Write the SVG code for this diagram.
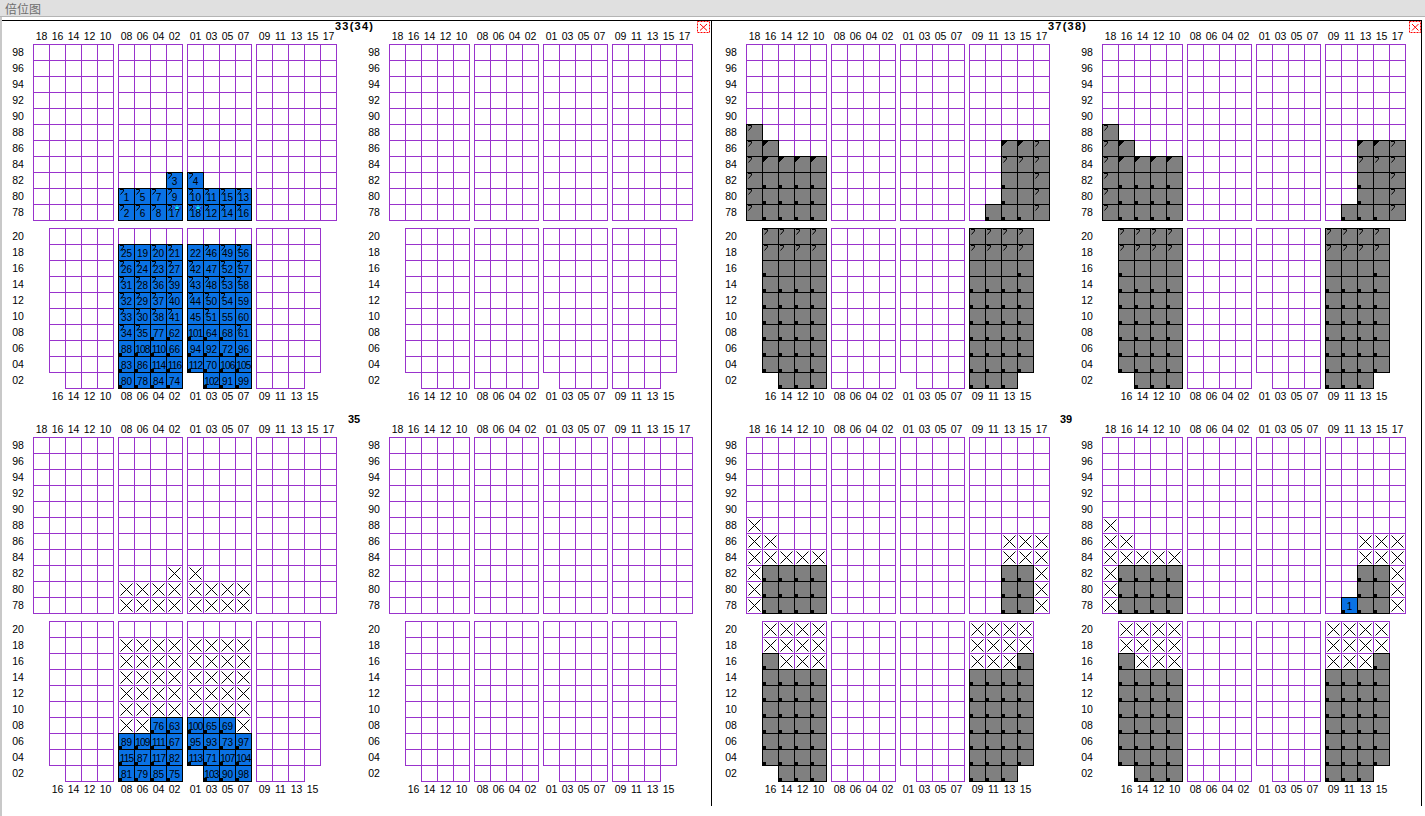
<svg xmlns="http://www.w3.org/2000/svg" width="1425" height="816" viewBox="0 0 1425 816">
<style>
.gr{fill:none;stroke:#9933cc;stroke-width:1;shape-rendering:crispEdges}
.g{fill:#808080;stroke:#000;stroke-width:1;shape-rendering:crispEdges}
.b{fill:#0a72e4;stroke:#000;stroke-width:1;shape-rendering:crispEdges}
.mk{fill:#000;shape-rendering:crispEdges}
.hk{fill:none;stroke:#000;stroke-width:1}
.xl{fill:none;stroke:#000;stroke-width:1}
.lb{font-family:"Liberation Sans",Arial,sans-serif;font-size:10.5px;text-anchor:middle;fill:#000}
.n{font-family:"Liberation Sans",Arial,sans-serif;font-size:10px;text-anchor:middle;fill:#000}
.w3{letter-spacing:-0.8px}
.t{font-family:"Liberation Sans",Arial,sans-serif;font-size:11px;font-weight:bold;fill:#000}
.bd{fill:none;stroke:#000;stroke-width:1;shape-rendering:crispEdges}
</style>
<defs>
<g id="grid" class="gr">
<path transform="translate(0,44)" d="M0.5 0V177M16.5 0V177M32.5 0V177M48.5 0V177M64.5 0V177M80.5 0V177M0 0.5H81M0 16.5H81M0 32.5H81M0 48.5H81M0 64.5H81M0 80.5H81M0 96.5H81M0 112.5H81M0 128.5H81M0 144.5H81M0 160.5H81M0 176.5H81"/>
<path transform="translate(85,44)" d="M0.5 0V177M16.5 0V177M32.5 0V177M48.5 0V177M64.5 0V177M0 0.5H65M0 16.5H65M0 32.5H65M0 48.5H65M0 64.5H65M0 80.5H65M0 96.5H65M0 112.5H65M0 128.5H65M0 144.5H65M0 160.5H65M0 176.5H65"/>
<path transform="translate(154,44)" d="M0.5 0V177M16.5 0V177M32.5 0V177M48.5 0V177M64.5 0V177M0 0.5H65M0 16.5H65M0 32.5H65M0 48.5H65M0 64.5H65M0 80.5H65M0 96.5H65M0 112.5H65M0 128.5H65M0 144.5H65M0 160.5H65M0 176.5H65"/>
<path transform="translate(223,44)" d="M0.5 0V177M16.5 0V177M32.5 0V177M48.5 0V177M64.5 0V177M80.5 0V177M0 0.5H81M0 16.5H81M0 32.5H81M0 48.5H81M0 64.5H81M0 80.5H81M0 96.5H81M0 112.5H81M0 128.5H81M0 144.5H81M0 160.5H81M0 176.5H81"/>
<path transform="translate(16,228)" d="M0.5 0V145M16.5 0V161M32.5 0V161M48.5 0V161M64.5 0V161M0 0.5H65M0 16.5H65M0 32.5H65M0 48.5H65M0 64.5H65M0 80.5H65M0 96.5H65M0 112.5H65M0 128.5H65M0 144.5H65M16 160.5H65"/>
<path transform="translate(85,228)" d="M0.5 0V161M16.5 0V161M32.5 0V161M48.5 0V161M64.5 0V161M0 0.5H65M0 16.5H65M0 32.5H65M0 48.5H65M0 64.5H65M0 80.5H65M0 96.5H65M0 112.5H65M0 128.5H65M0 144.5H65M0 160.5H65"/>
<path transform="translate(154,228)" d="M0.5 0V145M16.5 0V161M32.5 0V161M48.5 0V161M64.5 0V161M0 0.5H65M0 16.5H65M0 32.5H65M0 48.5H65M0 64.5H65M0 80.5H65M0 96.5H65M0 112.5H65M0 128.5H65M0 144.5H65M16 160.5H65"/>
<path transform="translate(223,228)" d="M0.5 0V161M16.5 0V161M32.5 0V161M48.5 0V161M64.5 0V145M0 0.5H65M0 16.5H65M0 32.5H65M0 48.5H65M0 64.5H65M0 80.5H65M0 96.5H65M0 112.5H65M0 128.5H65M0 144.5H65M0 160.5H49"/>
</g>
<path id="hkp" class="hk" d="M2 1.5h3.5M5.5 1.5v1.5L2.5 6.5"/>
<rect id="sqp" class="mk" x="1" y="13" width="3" height="3"/>
<path id="trp" class="mk" d="M1 1h5L1 6z"/>
<g id="G0"><rect class="g" x="0.5" y="0.5" width="16" height="16"/></g>
<g id="GS"><rect class="g" x="0.5" y="0.5" width="16" height="16"/><use href="#sqp"/></g>
<g id="GH"><rect class="g" x="0.5" y="0.5" width="16" height="16"/><use href="#hkp"/></g>
<g id="GT"><rect class="g" x="0.5" y="0.5" width="16" height="16"/><use href="#trp"/></g>
<g id="B0"><rect class="b" x="0.5" y="0.5" width="16" height="16"/></g>
<g id="BS"><rect class="b" x="0.5" y="0.5" width="16" height="16"/><use href="#sqp"/></g>
<g id="BH"><rect class="b" x="0.5" y="0.5" width="16" height="16"/><use href="#hkp"/></g>
<path id="X" class="xl" d="M2.5 2.5l12 12M14.5 2.5l-12 12"/>
<g id="AST"><ellipse cx="11" cy="4" rx="4" ry="3" fill="#2a3fc4"/><path d="M11 1v6M8.5 2.5l5 3M13.5 2.5l-5 3" stroke="#00ffff" stroke-width="1" fill="none"/></g>
<g id="ov37">
<use href="#GH" x="0" y="124"/><use href="#GH" x="0" y="140"/><use href="#GT" x="16" y="140"/>
<use href="#GH" x="0" y="156"/><use href="#GT" x="16" y="156"/><use href="#GT" x="32" y="156"/><use href="#GT" x="48" y="156"/><use href="#GT" x="64" y="156"/>
<use href="#GH" x="0" y="172"/><use href="#GS" x="16" y="172"/><use href="#GS" x="32" y="172"/><use href="#GS" x="48" y="172"/><use href="#GS" x="64" y="172"/>
<use href="#GH" x="0" y="188"/><use href="#GS" x="16" y="188"/><use href="#GS" x="32" y="188"/><use href="#GS" x="48" y="188"/><use href="#GS" x="64" y="188"/>
<use href="#GH" x="0" y="204"/><use href="#GS" x="16" y="204"/><use href="#GS" x="32" y="204"/><use href="#GS" x="48" y="204"/><use href="#GS" x="64" y="204"/>
<use href="#GT" x="255" y="140"/><use href="#GT" x="271" y="140"/><use href="#GH" x="287" y="140"/>
<use href="#GH" x="255" y="156"/><use href="#GH" x="271" y="156"/><use href="#GH" x="287" y="156"/>
<use href="#GS" x="255" y="172"/><use href="#G0" x="271" y="172"/><use href="#GH" x="287" y="172"/>
<use href="#GS" x="255" y="188"/><use href="#G0" x="271" y="188"/><use href="#GH" x="287" y="188"/>
<use href="#GS" x="239" y="204"/><use href="#GS" x="255" y="204"/><use href="#GS" x="271" y="204"/><use href="#GH" x="287" y="204"/>
<use href="#GH" x="16" y="228"/><use href="#GH" x="32" y="228"/><use href="#GH" x="48" y="228"/><use href="#GH" x="64" y="228"/>
<use href="#GH" x="16" y="244"/><use href="#GH" x="32" y="244"/><use href="#GH" x="48" y="244"/><use href="#GH" x="64" y="244"/>
<use href="#GS" x="16" y="260"/><use href="#G0" x="32" y="260"/><use href="#G0" x="48" y="260"/><use href="#G0" x="64" y="260"/>
<use href="#GS" x="16" y="276"/><use href="#GS" x="32" y="276"/><use href="#GS" x="48" y="276"/><use href="#GS" x="64" y="276"/>
<use href="#GS" x="16" y="292"/><use href="#GS" x="32" y="292"/><use href="#GS" x="48" y="292"/><use href="#GS" x="64" y="292"/>
<use href="#GS" x="16" y="308"/><use href="#GS" x="32" y="308"/><use href="#GS" x="48" y="308"/><use href="#GS" x="64" y="308"/>
<use href="#GS" x="16" y="324"/><use href="#GS" x="32" y="324"/><use href="#GS" x="48" y="324"/><use href="#GS" x="64" y="324"/>
<use href="#GS" x="16" y="340"/><use href="#GS" x="32" y="340"/><use href="#GS" x="48" y="340"/><use href="#GS" x="64" y="340"/>
<use href="#GS" x="16" y="356"/><use href="#GS" x="32" y="356"/><use href="#GS" x="48" y="356"/><use href="#GS" x="64" y="356"/>
<use href="#GS" x="32" y="372"/><use href="#GS" x="48" y="372"/><use href="#GS" x="64" y="372"/>
<use href="#GH" x="223" y="228"/><use href="#GH" x="239" y="228"/><use href="#GH" x="255" y="228"/><use href="#GH" x="271" y="228"/>
<use href="#GH" x="223" y="244"/><use href="#GH" x="239" y="244"/><use href="#GH" x="255" y="244"/><use href="#GH" x="271" y="244"/>
<use href="#G0" x="223" y="260"/><use href="#G0" x="239" y="260"/><use href="#G0" x="255" y="260"/><use href="#GS" x="271" y="260"/>
<use href="#GS" x="223" y="276"/><use href="#GS" x="239" y="276"/><use href="#GS" x="255" y="276"/><use href="#GS" x="271" y="276"/>
<use href="#GS" x="223" y="292"/><use href="#GS" x="239" y="292"/><use href="#GS" x="255" y="292"/><use href="#GS" x="271" y="292"/>
<use href="#GS" x="223" y="308"/><use href="#GS" x="239" y="308"/><use href="#GS" x="255" y="308"/><use href="#GS" x="271" y="308"/>
<use href="#GS" x="223" y="324"/><use href="#GS" x="239" y="324"/><use href="#GS" x="255" y="324"/><use href="#GS" x="271" y="324"/>
<use href="#GS" x="223" y="340"/><use href="#GS" x="239" y="340"/><use href="#GS" x="255" y="340"/><use href="#GS" x="271" y="340"/>
<use href="#GS" x="223" y="356"/><use href="#GS" x="239" y="356"/><use href="#GS" x="255" y="356"/><use href="#GS" x="271" y="356"/>
<use href="#GS" x="223" y="372"/><use href="#GS" x="239" y="372"/><use href="#GS" x="255" y="372"/>
</g>
<g id="ov39">
<use href="#X" x="0" y="124"/><use href="#X" x="0" y="140"/><use href="#X" x="16" y="140"/>
<use href="#X" x="0" y="156"/><use href="#X" x="16" y="156"/><use href="#X" x="32" y="156"/><use href="#X" x="48" y="156"/><use href="#X" x="64" y="156"/>
<use href="#X" x="0" y="172"/><use href="#X" x="0" y="188"/><use href="#X" x="0" y="204"/>
<use href="#GS" x="16" y="172"/><use href="#GS" x="32" y="172"/><use href="#GS" x="48" y="172"/><use href="#GS" x="64" y="172"/>
<use href="#GS" x="16" y="188"/><use href="#GS" x="32" y="188"/><use href="#GS" x="48" y="188"/><use href="#GS" x="64" y="188"/>
<use href="#GS" x="16" y="204"/><use href="#GS" x="32" y="204"/><use href="#GS" x="48" y="204"/><use href="#GS" x="64" y="204"/>
<use href="#X" x="255" y="140"/><use href="#X" x="271" y="140"/><use href="#X" x="287" y="140"/>
<use href="#X" x="255" y="156"/><use href="#X" x="271" y="156"/><use href="#X" x="287" y="156"/>
<use href="#X" x="287" y="172"/><use href="#X" x="287" y="188"/><use href="#X" x="287" y="204"/>
<use href="#GS" x="255" y="172"/><use href="#GS" x="271" y="172"/><use href="#GS" x="255" y="188"/><use href="#GS" x="271" y="188"/><use href="#GS" x="255" y="204"/><use href="#GS" x="271" y="204"/>
<use href="#X" x="16" y="228"/><use href="#X" x="32" y="228"/><use href="#X" x="48" y="228"/><use href="#X" x="64" y="228"/>
<use href="#X" x="16" y="244"/><use href="#X" x="32" y="244"/><use href="#X" x="48" y="244"/><use href="#X" x="64" y="244"/>
<use href="#GS" x="16" y="260"/><use href="#X" x="32" y="260"/><use href="#X" x="48" y="260"/><use href="#X" x="64" y="260"/>
<use href="#GS" x="16" y="276"/><use href="#GS" x="32" y="276"/><use href="#GS" x="48" y="276"/><use href="#GS" x="64" y="276"/>
<use href="#GS" x="16" y="292"/><use href="#GS" x="32" y="292"/><use href="#GS" x="48" y="292"/><use href="#GS" x="64" y="292"/>
<use href="#GS" x="16" y="308"/><use href="#GS" x="32" y="308"/><use href="#GS" x="48" y="308"/><use href="#GS" x="64" y="308"/>
<use href="#GS" x="16" y="324"/><use href="#GS" x="32" y="324"/><use href="#GS" x="48" y="324"/><use href="#GS" x="64" y="324"/>
<use href="#GS" x="16" y="340"/><use href="#GS" x="32" y="340"/><use href="#GS" x="48" y="340"/><use href="#GS" x="64" y="340"/>
<use href="#GS" x="16" y="356"/><use href="#GS" x="32" y="356"/><use href="#GS" x="48" y="356"/><use href="#GS" x="64" y="356"/>
<use href="#GS" x="32" y="372"/><use href="#GS" x="48" y="372"/><use href="#GS" x="64" y="372"/>
<use href="#X" x="223" y="228"/><use href="#X" x="239" y="228"/><use href="#X" x="255" y="228"/><use href="#X" x="271" y="228"/>
<use href="#X" x="223" y="244"/><use href="#X" x="239" y="244"/><use href="#X" x="255" y="244"/><use href="#X" x="271" y="244"/>
<use href="#X" x="223" y="260"/><use href="#X" x="239" y="260"/><use href="#X" x="255" y="260"/><use href="#GS" x="271" y="260"/>
<use href="#GS" x="223" y="276"/><use href="#GS" x="239" y="276"/><use href="#GS" x="255" y="276"/><use href="#GS" x="271" y="276"/>
<use href="#GS" x="223" y="292"/><use href="#GS" x="239" y="292"/><use href="#GS" x="255" y="292"/><use href="#GS" x="271" y="292"/>
<use href="#GS" x="223" y="308"/><use href="#GS" x="239" y="308"/><use href="#GS" x="255" y="308"/><use href="#GS" x="271" y="308"/>
<use href="#GS" x="223" y="324"/><use href="#GS" x="239" y="324"/><use href="#GS" x="255" y="324"/><use href="#GS" x="271" y="324"/>
<use href="#GS" x="223" y="340"/><use href="#GS" x="239" y="340"/><use href="#GS" x="255" y="340"/><use href="#GS" x="271" y="340"/>
<use href="#GS" x="223" y="356"/><use href="#GS" x="239" y="356"/><use href="#GS" x="255" y="356"/><use href="#GS" x="271" y="356"/>
<use href="#GS" x="223" y="372"/><use href="#GS" x="239" y="372"/><use href="#GS" x="255" y="372"/>
</g>
</defs>
<rect width="1425" height="816" fill="#fff"/>
<g id="titlebar">
<rect x="0" y="0" width="1425" height="17" fill="#e0e0e0"/>
<rect x="0" y="16" width="1425" height="1" fill="#b4b4b4"/>
<text x="5" y="14" font-family="'Noto Sans CJK SC',sans-serif" font-size="12" fill="#6e6e6e">倍位图</text>
</g>
<g id="frame">
<rect x="0" y="17" width="2" height="799" fill="#c8c8c8"/>
<path class="bd" d="M2 20.5H1422M711.5 20V806M1421.5 20V806"/>
<g id="close-left"><rect x="697.5" y="21.5" width="12" height="11" fill="none" stroke="#f00" stroke-dasharray="2 1"/><path d="M700 24l7 6.5M707 24l-7 6.5" stroke="#f00" fill="none"/></g>
<g id="close-right"><rect x="1409.5" y="21.5" width="11" height="11" fill="none" stroke="#f00" stroke-dasharray="2 1"/><path d="M1412 24l6.5 6.5M1418.5 24l-6.5 6.5" stroke="#f00" fill="none"/></g>
</g>
<g id="titles">
<text class="t" x="335" y="30" textLength="38">33(34)</text>
<text class="t" x="1048" y="30" textLength="38">37(38)</text>
<text class="t" x="348" y="423">35</text>
<text class="t" x="1060" y="423">39</text>
</g>

<g id="bay33-34-a" transform="translate(33,0)">
<use href="#grid"/>
<text class="lb" y="40"><tspan x="8.5">18</tspan><tspan x="24.5">16</tspan><tspan x="40.5">14</tspan><tspan x="56.5">12</tspan><tspan x="72.5">10</tspan><tspan x="93.5">08</tspan><tspan x="109.5">06</tspan><tspan x="125.5">04</tspan><tspan x="141.5">02</tspan><tspan x="162.5">01</tspan><tspan x="178.5">03</tspan><tspan x="194.5">05</tspan><tspan x="210.5">07</tspan><tspan x="231.5">09</tspan><tspan x="247.5">11</tspan><tspan x="263.5">13</tspan><tspan x="279.5">15</tspan><tspan x="295.5">17</tspan></text>
<text class="lb"><tspan x="-15" y="56">98</tspan><tspan x="-15" y="72">96</tspan><tspan x="-15" y="88">94</tspan><tspan x="-15" y="104">92</tspan><tspan x="-15" y="120">90</tspan><tspan x="-15" y="136">88</tspan><tspan x="-15" y="152">86</tspan><tspan x="-15" y="168">84</tspan><tspan x="-15" y="184">82</tspan><tspan x="-15" y="200">80</tspan><tspan x="-15" y="216">78</tspan><tspan x="-15" y="240">20</tspan><tspan x="-15" y="256">18</tspan><tspan x="-15" y="272">16</tspan><tspan x="-15" y="288">14</tspan><tspan x="-15" y="304">12</tspan><tspan x="-15" y="320">10</tspan><tspan x="-15" y="336">08</tspan><tspan x="-15" y="352">06</tspan><tspan x="-15" y="368">04</tspan><tspan x="-15" y="384">02</tspan></text>
<text class="lb" y="400"><tspan x="24.5">16</tspan><tspan x="40.5">14</tspan><tspan x="56.5">12</tspan><tspan x="72.5">10</tspan><tspan x="93.5">08</tspan><tspan x="109.5">06</tspan><tspan x="125.5">04</tspan><tspan x="141.5">02</tspan><tspan x="162.5">01</tspan><tspan x="178.5">03</tspan><tspan x="194.5">05</tspan><tspan x="210.5">07</tspan><tspan x="231.5">09</tspan><tspan x="247.5">11</tspan><tspan x="263.5">13</tspan><tspan x="279.5">15</tspan></text>
<use href="#BH" x="133" y="172"/><use href="#BH" x="154" y="172"/>
<use href="#BH" x="85" y="188"/><use href="#BH" x="101" y="188"/><use href="#BH" x="117" y="188"/><use href="#BH" x="133" y="188"/><use href="#BH" x="154" y="188"/><use href="#BH" x="170" y="188"/><use href="#BH" x="186" y="188"/><use href="#BH" x="202" y="188"/>
<use href="#BH" x="85" y="204"/><use href="#BH" x="101" y="204"/><use href="#BH" x="117" y="204"/><use href="#BH" x="133" y="204"/><use href="#BH" x="154" y="204"/><use href="#BH" x="170" y="204"/><use href="#BH" x="186" y="204"/><use href="#BH" x="202" y="204"/>
<use href="#AST" x="133" y="204"/><use href="#AST" x="154" y="204"/>
<text class="n" y="185"><tspan x="141.5">3</tspan><tspan x="162.5">4</tspan></text>
<text class="n" y="201"><tspan x="93.5">1</tspan><tspan x="109.5">5</tspan><tspan x="125.5">7</tspan><tspan x="141.5">9</tspan><tspan x="162.5">10</tspan><tspan x="178.5">11</tspan><tspan x="194.5">15</tspan><tspan x="210.5">13</tspan></text>
<text class="n" y="217"><tspan x="93.5">2</tspan><tspan x="109.5">6</tspan><tspan x="125.5">8</tspan><tspan x="141.5">17</tspan><tspan x="162.5">18</tspan><tspan x="178.5">12</tspan><tspan x="194.5">14</tspan><tspan x="210.5">16</tspan></text>
<use href="#BH" x="85" y="244"/><use href="#B0" x="101" y="244"/><use href="#BH" x="117" y="244"/><use href="#BH" x="133" y="244"/><use href="#B0" x="154" y="244"/><use href="#BH" x="170" y="244"/><use href="#BH" x="186" y="244"/><use href="#BH" x="202" y="244"/>
<use href="#BH" x="85" y="260"/><use href="#BH" x="101" y="260"/><use href="#BH" x="117" y="260"/><use href="#BH" x="133" y="260"/><use href="#BH" x="154" y="260"/><use href="#B0" x="170" y="260"/><use href="#BH" x="186" y="260"/><use href="#BH" x="202" y="260"/>
<use href="#BH" x="85" y="276"/><use href="#BH" x="101" y="276"/><use href="#BH" x="117" y="276"/><use href="#BH" x="133" y="276"/><use href="#BH" x="154" y="276"/><use href="#BH" x="170" y="276"/><use href="#BH" x="186" y="276"/><use href="#BH" x="202" y="276"/>
<use href="#BH" x="85" y="292"/><use href="#BH" x="101" y="292"/><use href="#BH" x="117" y="292"/><use href="#BH" x="133" y="292"/><use href="#BH" x="154" y="292"/><use href="#BH" x="170" y="292"/><use href="#BH" x="186" y="292"/><use href="#B0" x="202" y="292"/>
<use href="#BH" x="85" y="308"/><use href="#BH" x="101" y="308"/><use href="#BH" x="117" y="308"/><use href="#BH" x="133" y="308"/><use href="#B0" x="154" y="308"/><use href="#BH" x="170" y="308"/><use href="#B0" x="186" y="308"/><use href="#B0" x="202" y="308"/>
<use href="#BH" x="85" y="324"/><use href="#BH" x="101" y="324"/><use href="#BS" x="117" y="324"/><use href="#BS" x="133" y="324"/><use href="#BS" x="154" y="324"/><use href="#BS" x="170" y="324"/><use href="#BS" x="186" y="324"/><use href="#BH" x="202" y="324"/>
<use href="#BS" x="85" y="340"/><use href="#BS" x="101" y="340"/><use href="#BS" x="117" y="340"/><use href="#BS" x="133" y="340"/><use href="#BS" x="154" y="340"/><use href="#BS" x="170" y="340"/><use href="#BS" x="186" y="340"/><use href="#BS" x="202" y="340"/>
<use href="#BS" x="85" y="356"/><use href="#BS" x="101" y="356"/><use href="#BS" x="117" y="356"/><use href="#BS" x="133" y="356"/><use href="#BS" x="154" y="356"/><use href="#BS" x="170" y="356"/><use href="#BS" x="186" y="356"/><use href="#BS" x="202" y="356"/>
<use href="#BS" x="85" y="372"/><use href="#BS" x="101" y="372"/><use href="#BS" x="117" y="372"/><use href="#BS" x="133" y="372"/><use href="#BS" x="170" y="372"/><use href="#BS" x="186" y="372"/><use href="#BS" x="202" y="372"/>
<text class="n" y="257"><tspan x="93.5">25</tspan><tspan x="109.5">19</tspan><tspan x="125.5">20</tspan><tspan x="141.5">21</tspan><tspan x="162.5">22</tspan><tspan x="178.5">46</tspan><tspan x="194.5">49</tspan><tspan x="210.5">56</tspan></text>
<text class="n" y="273"><tspan x="93.5">26</tspan><tspan x="109.5">24</tspan><tspan x="125.5">23</tspan><tspan x="141.5">27</tspan><tspan x="162.5">42</tspan><tspan x="178.5">47</tspan><tspan x="194.5">52</tspan><tspan x="210.5">57</tspan></text>
<text class="n" y="289"><tspan x="93.5">31</tspan><tspan x="109.5">28</tspan><tspan x="125.5">36</tspan><tspan x="141.5">39</tspan><tspan x="162.5">43</tspan><tspan x="178.5">48</tspan><tspan x="194.5">53</tspan><tspan x="210.5">58</tspan></text>
<text class="n" y="305"><tspan x="93.5">32</tspan><tspan x="109.5">29</tspan><tspan x="125.5">37</tspan><tspan x="141.5">40</tspan><tspan x="162.5">44</tspan><tspan x="178.5">50</tspan><tspan x="194.5">54</tspan><tspan x="210.5">59</tspan></text>
<text class="n" y="321"><tspan x="93.5">33</tspan><tspan x="109.5">30</tspan><tspan x="125.5">38</tspan><tspan x="141.5">41</tspan><tspan x="162.5">45</tspan><tspan x="178.5">51</tspan><tspan x="194.5">55</tspan><tspan x="210.5">60</tspan></text>
<text class="n" y="337"><tspan x="93.5">34</tspan><tspan x="109.5">35</tspan><tspan x="125.5">77</tspan><tspan x="141.5">62</tspan><tspan class="w3" x="162.5">101</tspan><tspan x="178.5">64</tspan><tspan x="194.5">68</tspan><tspan x="210.5">61</tspan></text>
<text class="n" y="353"><tspan x="93.5">88</tspan><tspan class="w3" x="109.5">108</tspan><tspan class="w3" x="125.5">110</tspan><tspan x="141.5">66</tspan><tspan x="162.5">94</tspan><tspan x="178.5">92</tspan><tspan x="194.5">72</tspan><tspan x="210.5">96</tspan></text>
<text class="n" y="369"><tspan x="93.5">83</tspan><tspan x="109.5">86</tspan><tspan class="w3" x="125.5">114</tspan><tspan class="w3" x="141.5">116</tspan><tspan class="w3" x="162.5">112</tspan><tspan x="178.5">70</tspan><tspan class="w3" x="194.5">106</tspan><tspan class="w3" x="210.5">105</tspan></text>
<text class="n" y="385"><tspan x="93.5">80</tspan><tspan x="109.5">78</tspan><tspan x="125.5">84</tspan><tspan x="141.5">74</tspan><tspan class="w3" x="178.5">102</tspan><tspan x="194.5">91</tspan><tspan x="210.5">99</tspan></text>
</g>

<g id="bay33-34-b" transform="translate(389,0)">
<use href="#grid"/>
<text class="lb" y="40"><tspan x="8.5">18</tspan><tspan x="24.5">16</tspan><tspan x="40.5">14</tspan><tspan x="56.5">12</tspan><tspan x="72.5">10</tspan><tspan x="93.5">08</tspan><tspan x="109.5">06</tspan><tspan x="125.5">04</tspan><tspan x="141.5">02</tspan><tspan x="162.5">01</tspan><tspan x="178.5">03</tspan><tspan x="194.5">05</tspan><tspan x="210.5">07</tspan><tspan x="231.5">09</tspan><tspan x="247.5">11</tspan><tspan x="263.5">13</tspan><tspan x="279.5">15</tspan><tspan x="295.5">17</tspan></text>
<text class="lb"><tspan x="-15" y="56">98</tspan><tspan x="-15" y="72">96</tspan><tspan x="-15" y="88">94</tspan><tspan x="-15" y="104">92</tspan><tspan x="-15" y="120">90</tspan><tspan x="-15" y="136">88</tspan><tspan x="-15" y="152">86</tspan><tspan x="-15" y="168">84</tspan><tspan x="-15" y="184">82</tspan><tspan x="-15" y="200">80</tspan><tspan x="-15" y="216">78</tspan><tspan x="-15" y="240">20</tspan><tspan x="-15" y="256">18</tspan><tspan x="-15" y="272">16</tspan><tspan x="-15" y="288">14</tspan><tspan x="-15" y="304">12</tspan><tspan x="-15" y="320">10</tspan><tspan x="-15" y="336">08</tspan><tspan x="-15" y="352">06</tspan><tspan x="-15" y="368">04</tspan><tspan x="-15" y="384">02</tspan></text>
<text class="lb" y="400"><tspan x="24.5">16</tspan><tspan x="40.5">14</tspan><tspan x="56.5">12</tspan><tspan x="72.5">10</tspan><tspan x="93.5">08</tspan><tspan x="109.5">06</tspan><tspan x="125.5">04</tspan><tspan x="141.5">02</tspan><tspan x="162.5">01</tspan><tspan x="178.5">03</tspan><tspan x="194.5">05</tspan><tspan x="210.5">07</tspan><tspan x="231.5">09</tspan><tspan x="247.5">11</tspan><tspan x="263.5">13</tspan><tspan x="279.5">15</tspan></text>
</g>

<g id="bay37-38-a" transform="translate(746,0)">
<use href="#grid"/>
<use href="#ov37"/>
<text class="lb" y="40"><tspan x="8.5">18</tspan><tspan x="24.5">16</tspan><tspan x="40.5">14</tspan><tspan x="56.5">12</tspan><tspan x="72.5">10</tspan><tspan x="93.5">08</tspan><tspan x="109.5">06</tspan><tspan x="125.5">04</tspan><tspan x="141.5">02</tspan><tspan x="162.5">01</tspan><tspan x="178.5">03</tspan><tspan x="194.5">05</tspan><tspan x="210.5">07</tspan><tspan x="231.5">09</tspan><tspan x="247.5">11</tspan><tspan x="263.5">13</tspan><tspan x="279.5">15</tspan><tspan x="295.5">17</tspan></text>
<text class="lb"><tspan x="-15" y="56">98</tspan><tspan x="-15" y="72">96</tspan><tspan x="-15" y="88">94</tspan><tspan x="-15" y="104">92</tspan><tspan x="-15" y="120">90</tspan><tspan x="-15" y="136">88</tspan><tspan x="-15" y="152">86</tspan><tspan x="-15" y="168">84</tspan><tspan x="-15" y="184">82</tspan><tspan x="-15" y="200">80</tspan><tspan x="-15" y="216">78</tspan><tspan x="-15" y="240">20</tspan><tspan x="-15" y="256">18</tspan><tspan x="-15" y="272">16</tspan><tspan x="-15" y="288">14</tspan><tspan x="-15" y="304">12</tspan><tspan x="-15" y="320">10</tspan><tspan x="-15" y="336">08</tspan><tspan x="-15" y="352">06</tspan><tspan x="-15" y="368">04</tspan><tspan x="-15" y="384">02</tspan></text>
<text class="lb" y="400"><tspan x="24.5">16</tspan><tspan x="40.5">14</tspan><tspan x="56.5">12</tspan><tspan x="72.5">10</tspan><tspan x="93.5">08</tspan><tspan x="109.5">06</tspan><tspan x="125.5">04</tspan><tspan x="141.5">02</tspan><tspan x="162.5">01</tspan><tspan x="178.5">03</tspan><tspan x="194.5">05</tspan><tspan x="210.5">07</tspan><tspan x="231.5">09</tspan><tspan x="247.5">11</tspan><tspan x="263.5">13</tspan><tspan x="279.5">15</tspan></text>
</g>

<g id="bay37-38-b" transform="translate(1102,0)">
<use href="#grid"/>
<use href="#ov37"/>
<text class="lb" y="40"><tspan x="8.5">18</tspan><tspan x="24.5">16</tspan><tspan x="40.5">14</tspan><tspan x="56.5">12</tspan><tspan x="72.5">10</tspan><tspan x="93.5">08</tspan><tspan x="109.5">06</tspan><tspan x="125.5">04</tspan><tspan x="141.5">02</tspan><tspan x="162.5">01</tspan><tspan x="178.5">03</tspan><tspan x="194.5">05</tspan><tspan x="210.5">07</tspan><tspan x="231.5">09</tspan><tspan x="247.5">11</tspan><tspan x="263.5">13</tspan><tspan x="279.5">15</tspan><tspan x="295.5">17</tspan></text>
<text class="lb"><tspan x="-15" y="56">98</tspan><tspan x="-15" y="72">96</tspan><tspan x="-15" y="88">94</tspan><tspan x="-15" y="104">92</tspan><tspan x="-15" y="120">90</tspan><tspan x="-15" y="136">88</tspan><tspan x="-15" y="152">86</tspan><tspan x="-15" y="168">84</tspan><tspan x="-15" y="184">82</tspan><tspan x="-15" y="200">80</tspan><tspan x="-15" y="216">78</tspan><tspan x="-15" y="240">20</tspan><tspan x="-15" y="256">18</tspan><tspan x="-15" y="272">16</tspan><tspan x="-15" y="288">14</tspan><tspan x="-15" y="304">12</tspan><tspan x="-15" y="320">10</tspan><tspan x="-15" y="336">08</tspan><tspan x="-15" y="352">06</tspan><tspan x="-15" y="368">04</tspan><tspan x="-15" y="384">02</tspan></text>
<text class="lb" y="400"><tspan x="24.5">16</tspan><tspan x="40.5">14</tspan><tspan x="56.5">12</tspan><tspan x="72.5">10</tspan><tspan x="93.5">08</tspan><tspan x="109.5">06</tspan><tspan x="125.5">04</tspan><tspan x="141.5">02</tspan><tspan x="162.5">01</tspan><tspan x="178.5">03</tspan><tspan x="194.5">05</tspan><tspan x="210.5">07</tspan><tspan x="231.5">09</tspan><tspan x="247.5">11</tspan><tspan x="263.5">13</tspan><tspan x="279.5">15</tspan></text>
</g>

<g id="bay35-a" transform="translate(33,393)">
<use href="#grid"/>
<text class="lb" y="40"><tspan x="8.5">18</tspan><tspan x="24.5">16</tspan><tspan x="40.5">14</tspan><tspan x="56.5">12</tspan><tspan x="72.5">10</tspan><tspan x="93.5">08</tspan><tspan x="109.5">06</tspan><tspan x="125.5">04</tspan><tspan x="141.5">02</tspan><tspan x="162.5">01</tspan><tspan x="178.5">03</tspan><tspan x="194.5">05</tspan><tspan x="210.5">07</tspan><tspan x="231.5">09</tspan><tspan x="247.5">11</tspan><tspan x="263.5">13</tspan><tspan x="279.5">15</tspan><tspan x="295.5">17</tspan></text>
<text class="lb"><tspan x="-15" y="56">98</tspan><tspan x="-15" y="72">96</tspan><tspan x="-15" y="88">94</tspan><tspan x="-15" y="104">92</tspan><tspan x="-15" y="120">90</tspan><tspan x="-15" y="136">88</tspan><tspan x="-15" y="152">86</tspan><tspan x="-15" y="168">84</tspan><tspan x="-15" y="184">82</tspan><tspan x="-15" y="200">80</tspan><tspan x="-15" y="216">78</tspan><tspan x="-15" y="240">20</tspan><tspan x="-15" y="256">18</tspan><tspan x="-15" y="272">16</tspan><tspan x="-15" y="288">14</tspan><tspan x="-15" y="304">12</tspan><tspan x="-15" y="320">10</tspan><tspan x="-15" y="336">08</tspan><tspan x="-15" y="352">06</tspan><tspan x="-15" y="368">04</tspan><tspan x="-15" y="384">02</tspan></text>
<text class="lb" y="400"><tspan x="24.5">16</tspan><tspan x="40.5">14</tspan><tspan x="56.5">12</tspan><tspan x="72.5">10</tspan><tspan x="93.5">08</tspan><tspan x="109.5">06</tspan><tspan x="125.5">04</tspan><tspan x="141.5">02</tspan><tspan x="162.5">01</tspan><tspan x="178.5">03</tspan><tspan x="194.5">05</tspan><tspan x="210.5">07</tspan><tspan x="231.5">09</tspan><tspan x="247.5">11</tspan><tspan x="263.5">13</tspan><tspan x="279.5">15</tspan></text>
<use href="#X" x="133" y="172"/><use href="#X" x="154" y="172"/>
<use href="#X" x="85" y="188"/><use href="#X" x="101" y="188"/><use href="#X" x="117" y="188"/><use href="#X" x="133" y="188"/><use href="#X" x="154" y="188"/><use href="#X" x="170" y="188"/><use href="#X" x="186" y="188"/><use href="#X" x="202" y="188"/>
<use href="#X" x="85" y="204"/><use href="#X" x="101" y="204"/><use href="#X" x="117" y="204"/><use href="#X" x="133" y="204"/><use href="#X" x="154" y="204"/><use href="#X" x="170" y="204"/><use href="#X" x="186" y="204"/><use href="#X" x="202" y="204"/>
<use href="#X" x="85" y="244"/><use href="#X" x="101" y="244"/><use href="#X" x="117" y="244"/><use href="#X" x="133" y="244"/><use href="#X" x="154" y="244"/><use href="#X" x="170" y="244"/><use href="#X" x="186" y="244"/><use href="#X" x="202" y="244"/>
<use href="#X" x="85" y="260"/><use href="#X" x="101" y="260"/><use href="#X" x="117" y="260"/><use href="#X" x="133" y="260"/><use href="#X" x="154" y="260"/><use href="#X" x="170" y="260"/><use href="#X" x="186" y="260"/><use href="#X" x="202" y="260"/>
<use href="#X" x="85" y="276"/><use href="#X" x="101" y="276"/><use href="#X" x="117" y="276"/><use href="#X" x="133" y="276"/><use href="#X" x="154" y="276"/><use href="#X" x="170" y="276"/><use href="#X" x="186" y="276"/><use href="#X" x="202" y="276"/>
<use href="#X" x="85" y="292"/><use href="#X" x="101" y="292"/><use href="#X" x="117" y="292"/><use href="#X" x="133" y="292"/><use href="#X" x="154" y="292"/><use href="#X" x="170" y="292"/><use href="#X" x="186" y="292"/><use href="#X" x="202" y="292"/>
<use href="#X" x="85" y="308"/><use href="#X" x="101" y="308"/><use href="#X" x="117" y="308"/><use href="#X" x="133" y="308"/><use href="#X" x="154" y="308"/><use href="#X" x="170" y="308"/><use href="#X" x="186" y="308"/><use href="#X" x="202" y="308"/>
<use href="#X" x="85" y="324"/><use href="#X" x="101" y="324"/><use href="#BS" x="117" y="324"/><use href="#BS" x="133" y="324"/><use href="#BS" x="154" y="324"/><use href="#BS" x="170" y="324"/><use href="#BS" x="186" y="324"/><use href="#X" x="202" y="324"/>
<use href="#BS" x="85" y="340"/><use href="#BS" x="101" y="340"/><use href="#BS" x="117" y="340"/><use href="#BS" x="133" y="340"/><use href="#BS" x="154" y="340"/><use href="#BS" x="170" y="340"/><use href="#BS" x="186" y="340"/><use href="#BS" x="202" y="340"/>
<use href="#BS" x="85" y="356"/><use href="#BS" x="101" y="356"/><use href="#BS" x="117" y="356"/><use href="#BS" x="133" y="356"/><use href="#BS" x="154" y="356"/><use href="#BS" x="170" y="356"/><use href="#BS" x="186" y="356"/><use href="#BS" x="202" y="356"/>
<use href="#BS" x="85" y="372"/><use href="#BS" x="101" y="372"/><use href="#BS" x="117" y="372"/><use href="#BS" x="133" y="372"/><use href="#BS" x="170" y="372"/><use href="#BS" x="186" y="372"/><use href="#BS" x="202" y="372"/>
<text class="n" y="337"><tspan x="125.5">76</tspan><tspan x="141.5">63</tspan><tspan class="w3" x="162.5">100</tspan><tspan x="178.5">65</tspan><tspan x="194.5">69</tspan></text>
<text class="n" y="353"><tspan x="93.5">89</tspan><tspan class="w3" x="109.5">109</tspan><tspan class="w3" x="125.5">111</tspan><tspan x="141.5">67</tspan><tspan x="162.5">95</tspan><tspan x="178.5">93</tspan><tspan x="194.5">73</tspan><tspan x="210.5">97</tspan></text>
<text class="n" y="369"><tspan class="w3" x="93.5">115</tspan><tspan x="109.5">87</tspan><tspan class="w3" x="125.5">117</tspan><tspan x="141.5">82</tspan><tspan class="w3" x="162.5">113</tspan><tspan x="178.5">71</tspan><tspan class="w3" x="194.5">107</tspan><tspan class="w3" x="210.5">104</tspan></text>
<text class="n" y="385"><tspan x="93.5">81</tspan><tspan x="109.5">79</tspan><tspan x="125.5">85</tspan><tspan x="141.5">75</tspan><tspan class="w3" x="178.5">103</tspan><tspan x="194.5">90</tspan><tspan x="210.5">98</tspan></text>
</g>

<g id="bay35-b" transform="translate(389,393)">
<use href="#grid"/>
<text class="lb" y="40"><tspan x="8.5">18</tspan><tspan x="24.5">16</tspan><tspan x="40.5">14</tspan><tspan x="56.5">12</tspan><tspan x="72.5">10</tspan><tspan x="93.5">08</tspan><tspan x="109.5">06</tspan><tspan x="125.5">04</tspan><tspan x="141.5">02</tspan><tspan x="162.5">01</tspan><tspan x="178.5">03</tspan><tspan x="194.5">05</tspan><tspan x="210.5">07</tspan><tspan x="231.5">09</tspan><tspan x="247.5">11</tspan><tspan x="263.5">13</tspan><tspan x="279.5">15</tspan><tspan x="295.5">17</tspan></text>
<text class="lb"><tspan x="-15" y="56">98</tspan><tspan x="-15" y="72">96</tspan><tspan x="-15" y="88">94</tspan><tspan x="-15" y="104">92</tspan><tspan x="-15" y="120">90</tspan><tspan x="-15" y="136">88</tspan><tspan x="-15" y="152">86</tspan><tspan x="-15" y="168">84</tspan><tspan x="-15" y="184">82</tspan><tspan x="-15" y="200">80</tspan><tspan x="-15" y="216">78</tspan><tspan x="-15" y="240">20</tspan><tspan x="-15" y="256">18</tspan><tspan x="-15" y="272">16</tspan><tspan x="-15" y="288">14</tspan><tspan x="-15" y="304">12</tspan><tspan x="-15" y="320">10</tspan><tspan x="-15" y="336">08</tspan><tspan x="-15" y="352">06</tspan><tspan x="-15" y="368">04</tspan><tspan x="-15" y="384">02</tspan></text>
<text class="lb" y="400"><tspan x="24.5">16</tspan><tspan x="40.5">14</tspan><tspan x="56.5">12</tspan><tspan x="72.5">10</tspan><tspan x="93.5">08</tspan><tspan x="109.5">06</tspan><tspan x="125.5">04</tspan><tspan x="141.5">02</tspan><tspan x="162.5">01</tspan><tspan x="178.5">03</tspan><tspan x="194.5">05</tspan><tspan x="210.5">07</tspan><tspan x="231.5">09</tspan><tspan x="247.5">11</tspan><tspan x="263.5">13</tspan><tspan x="279.5">15</tspan></text>
</g>

<g id="bay39-a" transform="translate(746,393)">
<use href="#grid"/>
<use href="#ov39"/>
<text class="lb" y="40"><tspan x="8.5">18</tspan><tspan x="24.5">16</tspan><tspan x="40.5">14</tspan><tspan x="56.5">12</tspan><tspan x="72.5">10</tspan><tspan x="93.5">08</tspan><tspan x="109.5">06</tspan><tspan x="125.5">04</tspan><tspan x="141.5">02</tspan><tspan x="162.5">01</tspan><tspan x="178.5">03</tspan><tspan x="194.5">05</tspan><tspan x="210.5">07</tspan><tspan x="231.5">09</tspan><tspan x="247.5">11</tspan><tspan x="263.5">13</tspan><tspan x="279.5">15</tspan><tspan x="295.5">17</tspan></text>
<text class="lb"><tspan x="-15" y="56">98</tspan><tspan x="-15" y="72">96</tspan><tspan x="-15" y="88">94</tspan><tspan x="-15" y="104">92</tspan><tspan x="-15" y="120">90</tspan><tspan x="-15" y="136">88</tspan><tspan x="-15" y="152">86</tspan><tspan x="-15" y="168">84</tspan><tspan x="-15" y="184">82</tspan><tspan x="-15" y="200">80</tspan><tspan x="-15" y="216">78</tspan><tspan x="-15" y="240">20</tspan><tspan x="-15" y="256">18</tspan><tspan x="-15" y="272">16</tspan><tspan x="-15" y="288">14</tspan><tspan x="-15" y="304">12</tspan><tspan x="-15" y="320">10</tspan><tspan x="-15" y="336">08</tspan><tspan x="-15" y="352">06</tspan><tspan x="-15" y="368">04</tspan><tspan x="-15" y="384">02</tspan></text>
<text class="lb" y="400"><tspan x="24.5">16</tspan><tspan x="40.5">14</tspan><tspan x="56.5">12</tspan><tspan x="72.5">10</tspan><tspan x="93.5">08</tspan><tspan x="109.5">06</tspan><tspan x="125.5">04</tspan><tspan x="141.5">02</tspan><tspan x="162.5">01</tspan><tspan x="178.5">03</tspan><tspan x="194.5">05</tspan><tspan x="210.5">07</tspan><tspan x="231.5">09</tspan><tspan x="247.5">11</tspan><tspan x="263.5">13</tspan><tspan x="279.5">15</tspan></text>
</g>

<g id="bay39-b" transform="translate(1102,393)">
<use href="#grid"/>
<use href="#ov39"/>
<use href="#BS" x="239" y="204"/>
<text class="n" x="247.5" y="217">1</text>
<text class="lb" y="40"><tspan x="8.5">18</tspan><tspan x="24.5">16</tspan><tspan x="40.5">14</tspan><tspan x="56.5">12</tspan><tspan x="72.5">10</tspan><tspan x="93.5">08</tspan><tspan x="109.5">06</tspan><tspan x="125.5">04</tspan><tspan x="141.5">02</tspan><tspan x="162.5">01</tspan><tspan x="178.5">03</tspan><tspan x="194.5">05</tspan><tspan x="210.5">07</tspan><tspan x="231.5">09</tspan><tspan x="247.5">11</tspan><tspan x="263.5">13</tspan><tspan x="279.5">15</tspan><tspan x="295.5">17</tspan></text>
<text class="lb"><tspan x="-15" y="56">98</tspan><tspan x="-15" y="72">96</tspan><tspan x="-15" y="88">94</tspan><tspan x="-15" y="104">92</tspan><tspan x="-15" y="120">90</tspan><tspan x="-15" y="136">88</tspan><tspan x="-15" y="152">86</tspan><tspan x="-15" y="168">84</tspan><tspan x="-15" y="184">82</tspan><tspan x="-15" y="200">80</tspan><tspan x="-15" y="216">78</tspan><tspan x="-15" y="240">20</tspan><tspan x="-15" y="256">18</tspan><tspan x="-15" y="272">16</tspan><tspan x="-15" y="288">14</tspan><tspan x="-15" y="304">12</tspan><tspan x="-15" y="320">10</tspan><tspan x="-15" y="336">08</tspan><tspan x="-15" y="352">06</tspan><tspan x="-15" y="368">04</tspan><tspan x="-15" y="384">02</tspan></text>
<text class="lb" y="400"><tspan x="24.5">16</tspan><tspan x="40.5">14</tspan><tspan x="56.5">12</tspan><tspan x="72.5">10</tspan><tspan x="93.5">08</tspan><tspan x="109.5">06</tspan><tspan x="125.5">04</tspan><tspan x="141.5">02</tspan><tspan x="162.5">01</tspan><tspan x="178.5">03</tspan><tspan x="194.5">05</tspan><tspan x="210.5">07</tspan><tspan x="231.5">09</tspan><tspan x="247.5">11</tspan><tspan x="263.5">13</tspan><tspan x="279.5">15</tspan></text>
</g>
</svg>
